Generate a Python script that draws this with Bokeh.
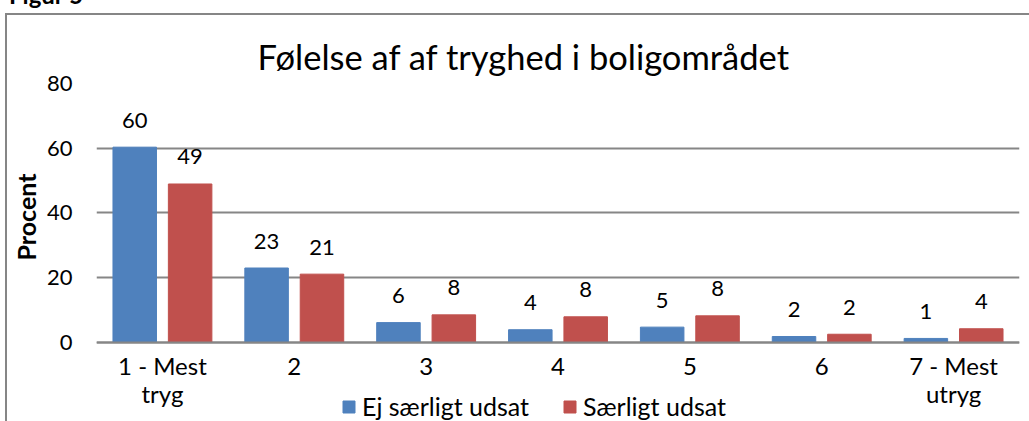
from bokeh.plotting import figure
from bokeh.models import (ColumnDataSource, FixedTicker, Legend, LegendItem, Range1d, Div)
from bokeh.layouts import column
from bokeh.transform import dodge
from bokeh.embed import file_html
from bokeh.resources import INLINE
from bokeh.core.properties import value

# ---- data ----
cat_pos = [1, 2, 3, 4, 5, 6, 7]
categories = ["1 - Mest\ntryg", "2", "3", "4", "5", "6", "7 - Mest\nutryg"]
ej_saerligt = [60.3, 22.9, 6.0, 3.8, 4.6, 1.7, 1.1]
saerligt = [48.9, 21.0, 8.4, 7.8, 8.1, 2.4, 4.1]
y_ticks = [0, 20, 40, 60, 80]
series_names = ["Ej særligt udsat", "Særligt udsat"]
title_text = "Følelse af af tryghed i boligområdet"
fig_label = "Figur 5"
y_label = "Procent"

# ---- style ----
FONT = "Lato"
GRID = "#868686"
BLUE = "#4F81BD"
RED = "#C0504D"

src = ColumnDataSource(dict(
    x=cat_pos,
    a=ej_saerligt,
    b=saerligt,
    la=[f"{v:.0f}" for v in ej_saerligt],
    lb=[f"{v:.0f}" for v in saerligt],
))

# frame extends below 0 so that category labels and legend sit inside it
p = figure(frame_width=921, frame_height=340, output_backend="svg",
           toolbar_location=None,
           x_range=Range1d(0.5, 7.5), y_range=Range1d(-25.84, 80),
           min_border_left=87, min_border_right=15, min_border_top=68,
           min_border_bottom=0,
           styles={"border-top": f"2px solid {GRID}",
                   "border-left": f"2px solid {GRID}",
                   "margin-left": "5px"})
p.outline_line_color = None
p.background_fill_color = "white"
p.border_fill_color = "white"

rb = p.vbar(x=dodge("x", -0.21), top="a", width=0.33, source=src,
            fill_color=BLUE, line_color=BLUE)
rr = p.vbar(x=dodge("x", 0.21), top="b", width=0.33, source=src,
            fill_color=RED, line_color=RED)

p.text(x=dodge("x", -0.21), y="a", text="la", source=src, text_align="center",
       text_baseline="alphabetic", y_offset=-27, text_font=value(FONT),
       text_font_size="22px", text_color="black")
p.text(x=dodge("x", 0.21), y="b", text="lb", source=src, text_align="center",
       text_baseline="alphabetic", y_offset=-27, text_font=value(FONT),
       text_font_size="22px", text_color="black")

# title
p.title.text = title_text
p.title.align = "left"
p.title.offset = 161
p.title.standoff = 13
p.title.text_font = FONT
p.title.text_font_size = "34.5px"
p.title.text_font_style = "normal"
p.title.text_color = "black"

# axes
p.xaxis.fixed_location = 0
p.xaxis.ticker = FixedTicker(ticks=cat_pos)
p.xaxis.major_label_overrides = {k: v for k, v in zip(cat_pos, categories)}
p.xaxis.major_tick_line_color = None
p.xaxis.minor_tick_line_color = None
p.xaxis.axis_line_color = GRID
p.xaxis.axis_line_width = 2
p.xaxis.major_label_standoff = 3
p.xaxis.major_label_text_font = FONT
p.xaxis.major_label_text_font_size = "24px"
p.xaxis.major_label_text_line_height = 0.97
p.xaxis.major_label_text_color = "black"
p.xgrid.grid_line_color = None

p.yaxis.ticker = FixedTicker(ticks=y_ticks)
p.yaxis.major_tick_line_color = None
p.yaxis.minor_tick_line_color = None
p.yaxis.axis_line_color = None
p.yaxis.major_label_standoff = 18
p.yaxis.major_label_text_font = FONT
p.yaxis.major_label_text_font_size = "22px"
p.yaxis.major_label_text_color = "black"
# leading em spaces lift the label to the centre of the 0-80 span
p.yaxis.axis_label = "\u2003\u2003\u2003\u2003" + y_label
p.yaxis.axis_label_text_font = FONT
p.yaxis.axis_label_text_font_style = "bold"
p.yaxis.axis_label_text_font_size = "25px"
p.yaxis.axis_label_text_color = "black"
p.yaxis.axis_label_standoff = 3
p.ygrid.grid_line_color = GRID
p.ygrid.grid_line_width = 2

legend = Legend(items=[LegendItem(label=series_names[0], renderers=[rb]),
                       LegendItem(label=series_names[1], renderers=[rr])],
                orientation="horizontal", location=(245, 4),
                glyph_width=15, glyph_height=15, label_height=15,
                label_standoff=6, spacing=33, padding=0, margin=0,
                border_line_color=None, background_fill_alpha=0,
                label_text_font=FONT, label_text_font_size="25px",
                label_text_color="black")
p.add_layout(legend)

caption = Div(text=(f'<div style="position:relative; top:-22px; left:4px; '
                    f'font-family:{FONT}; font-weight:bold; font-size:24px; '
                    f'line-height:24px; white-space:nowrap;">{fig_label}</div>'),
              width=200, height=3)

layout = column(caption, p, spacing=0)

open("out.html", "w").write(file_html(layout, INLINE))
